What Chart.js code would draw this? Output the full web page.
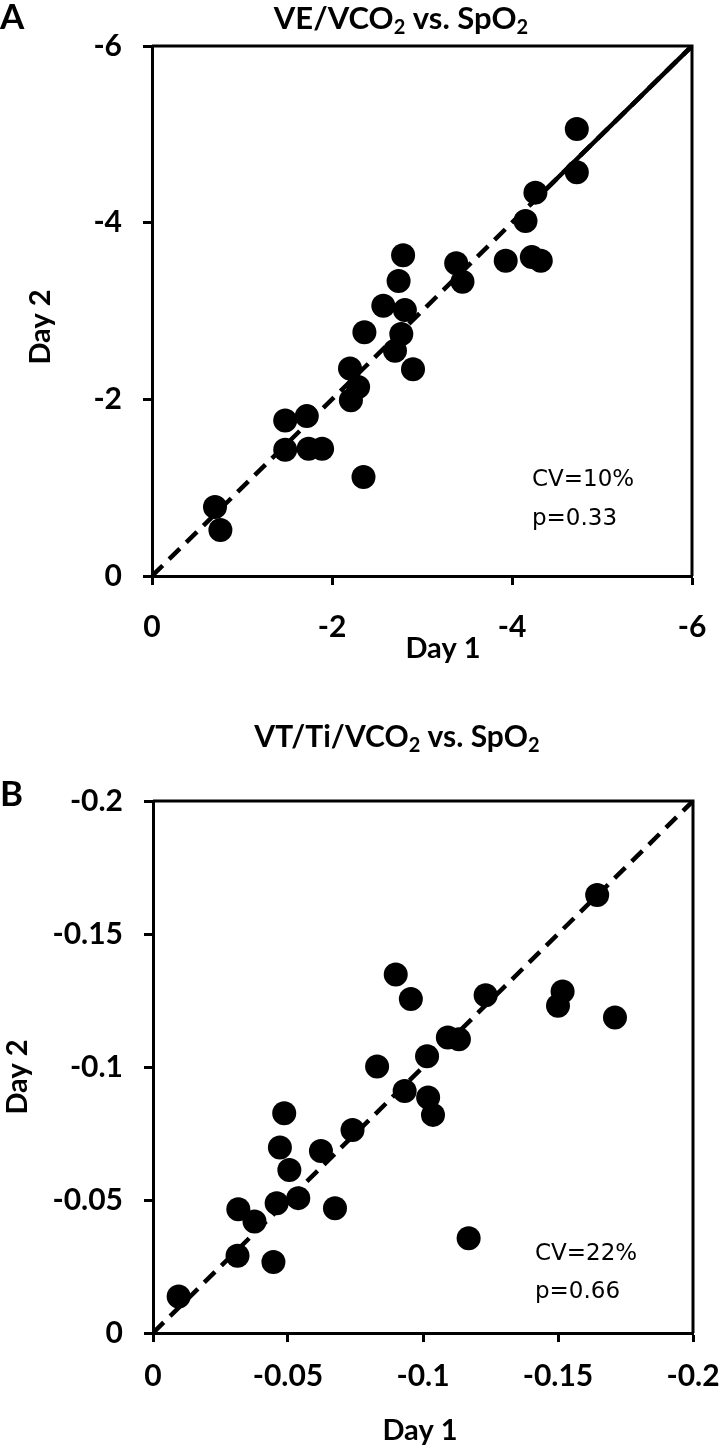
<!DOCTYPE html>
<html>
<head>
<meta charset="utf-8">
<script src="https://cdn.jsdelivr.net/npm/chart.js@4.4.1/dist/chart.umd.min.js"></script>
<style>
  body { margin: 0; background: #fff; }
  canvas { position: absolute; left: 0; }
  #chartA { top: 0; }
  #chartB { top: 690px; }
</style>
</head>
<body>
<canvas id="chartA" width="720" height="690"></canvas>
<canvas id="chartB" width="720" height="760"></canvas>
<script>
// Panel A: VE/VCO2 vs. SpO2 (Day 1 on x, Day 2 on y)
const aDay1 = [-4.72, -4.72, -4.26, -4.15, -3.93, -4.22, -4.32, -3.38, -3.45, -2.79,
  -2.74, -2.57, -2.81, -2.77, -2.36, -2.70, -2.90, -2.20, -2.29, -2.21,
  -1.48, -1.72, -1.48, -1.74, -1.89, -2.35, -0.70, -0.76];
const aDay2 = [-5.06, -4.57, -4.34, -4.02, -3.57, -3.61, -3.57, -3.54, -3.33, -3.63,
  -3.34, -3.06, -3.01, -2.74, -2.76, -2.55, -2.34, -2.35, -2.14, -1.99,
  -1.76, -1.81, -1.43, -1.44, -1.44, -1.12, -0.78, -0.52];
const aTicks = [0, -2, -4, -6];
const aDashed = [0, -6];      // line of identity
const aSolid = [-4.2, -6];    // solid part at the top end

// Panel B: VT/Ti/VCO2 vs. SpO2
const bDay1 = [-0.0095, -0.0313, -0.0446, -0.0316, -0.0376, -0.0458, -0.0538, -0.0674, -0.0505, -0.047,
  -0.0486, -0.0622, -0.0739, -0.083, -0.0932, -0.1019, -0.1037, -0.1169, -0.1015, -0.0899,
  -0.0955, -0.1092, -0.1133, -0.1232, -0.150, -0.1517, -0.1645, -0.1711];
const bDay2 = [-0.0137, -0.029, -0.0267, -0.0465, -0.0419, -0.0488, -0.0507, -0.0469, -0.0613, -0.0697,
  -0.0826, -0.0684, -0.0763, -0.1002, -0.091, -0.0885, -0.082, -0.0356, -0.104, -0.1348,
  -0.1256, -0.1111, -0.1104, -0.127, -0.123, -0.1284, -0.1647, -0.1186];
const bTicks = [0, -0.05, -0.1, -0.15, -0.2];
const bDashed = [0, -0.2];

const tickFont = { family: "Lato", size: 30, weight: "bold" };

// draws frame, panel letter, title with subscripts, axis titles and notes
const panelText = {
  id: "panelText",
  afterDraw(chart, args, o) {
    const ctx = chart.ctx;
    const a = chart.chartArea;
    ctx.save();
    ctx.strokeStyle = "#000";
    ctx.lineWidth = 3;
    ctx.beginPath();
    ctx.moveTo(a.left, a.top);
    ctx.lineTo(a.right, a.top);
    ctx.lineTo(a.right, a.bottom);
    ctx.stroke();

    ctx.fillStyle = "#000";
    ctx.textBaseline = "middle";
    ctx.textAlign = "left";
    ctx.font = "bold 35px Lato";
    ctx.fillText(o.letter, 0, o.letterY);

    // title with subscripts
    const big = "bold " + o.titleSize + "px Lato", small = "bold 20px Lato";
    let w = 0;
    o.title.forEach(p => { ctx.font = p[1] ? small : big; w += ctx.measureText(p[0]).width; });
    let x = o.titleX - w / 2;
    o.title.forEach(p => {
      ctx.font = p[1] ? small : big;
      ctx.fillText(p[0], x, o.titleY + (p[1] ? 9 : 0));
      x += ctx.measureText(p[0]).width;
    });

    ctx.font = "bold 29px Lato";
    ctx.textAlign = "center";
    ctx.fillText("Day 1", o.xTitleX, o.xTitleY);
    ctx.save();
    ctx.translate(o.yTitleX, o.yTitleY);
    ctx.rotate(-Math.PI / 2);
    ctx.fillText("Day 2", 0, 0);
    ctx.restore();

    ctx.font = "23px 'DejaVu Sans'";
    ctx.textAlign = "left";
    ctx.fillText(o.note[0], o.noteX, o.noteY[0]);
    ctx.fillText(o.note[1], o.noteX, o.noteY[1]);
    ctx.restore();
  }
};

function axis(ticks, min, size, isX, pad) {
  return {
    type: "linear",
    reverse: true,
    min: min,
    max: 0,
    afterBuildTicks: s => { s.ticks = ticks.map(v => ({ value: v })); },
    afterFit: s => {
      if (isX) { s.height = size; s.paddingLeft = 0; s.paddingRight = 0; }
      else { s.width = size; s.paddingTop = 0; s.paddingBottom = 0; }
    },
    ticks: { font: tickFont, color: "#000", padding: pad, callback: v => String(v) },
    grid: { drawOnChartArea: false, drawTicks: true, tickLength: 9, tickWidth: 3, tickColor: "#000" },
    border: { display: true, width: 3, color: "#000" }
  };
}

function pts(xs, ys) { return xs.map((v, i) => ({ x: v, y: ys[i] })); }

function makeChart(id, cfg) {
  return new Chart(document.getElementById(id), {
    type: "scatter",
    data: {
      datasets: [
        { type: "line", data: pts(cfg.dashed, cfg.dashed), borderColor: "#000", borderWidth: 4.5,
          borderDash: [15, 9], pointRadius: 0, fill: false },
        { type: "line", data: pts(cfg.solid, cfg.solid), borderColor: "#000", borderWidth: 4.5,
          pointRadius: 0, fill: false },
        { data: pts(cfg.x, cfg.y), backgroundColor: "#000", borderWidth: 0, pointRadius: 12, pointHoverRadius: 12 }
      ]
    },
    options: {
      responsive: false,
      animation: false,
      events: [],
      layout: { autoPadding: false, padding: { left: 0, top: cfg.top, right: cfg.right, bottom: 0 } },
      plugins: { legend: { display: false }, tooltip: { enabled: false }, panelText: cfg.text },
      scales: {
        x: axis(cfg.ticks, cfg.min, cfg.xh, true, cfg.xpad),
        y: axis(cfg.ticks, cfg.min, cfg.yw, false, 21)
      }
    },
    plugins: [panelText]
  });
}

makeChart("chartA", {
  x: aDay1, y: aDay2, dashed: aDashed, solid: aSolid, ticks: aTicks, min: -6,
  top: 46, right: 28, xh: 114, yw: 152, xpad: 24,
  text: {
    letter: "A", letterY: 18,
    title: [["VE/VCO", false], ["2", true], [" vs. SpO", false], ["2", true]], titleSize: 31, titleX: 401, titleY: 19,
    xTitleX: 443, xTitleY: 649, yTitleX: 41, yTitleY: 327,
    note: ["CV=10%", "p=0.33"], noteX: 532, noteY: [480, 519]
  }
});

makeChart("chartB", {
  x: bDay1, y: bDay2, dashed: bDashed, solid: [], ticks: bTicks, min: -0.2,
  top: 111, right: 27, xh: 117, yw: 153, xpad: 16,
  text: {
    letter: "B", letterY: 105,
    title: [["VT/Ti/VCO", false], ["2", true], [" vs. SpO", false], ["2", true]], titleSize: 30, titleX: 397, titleY: 47,
    xTitleX: 420, xTitleY: 741, yTitleX: 18, yTitleY: 387,
    note: ["CV=22%", "p=0.66"], noteX: 535, noteY: [564, 602]
  }
});
</script>
</body>
</html>
